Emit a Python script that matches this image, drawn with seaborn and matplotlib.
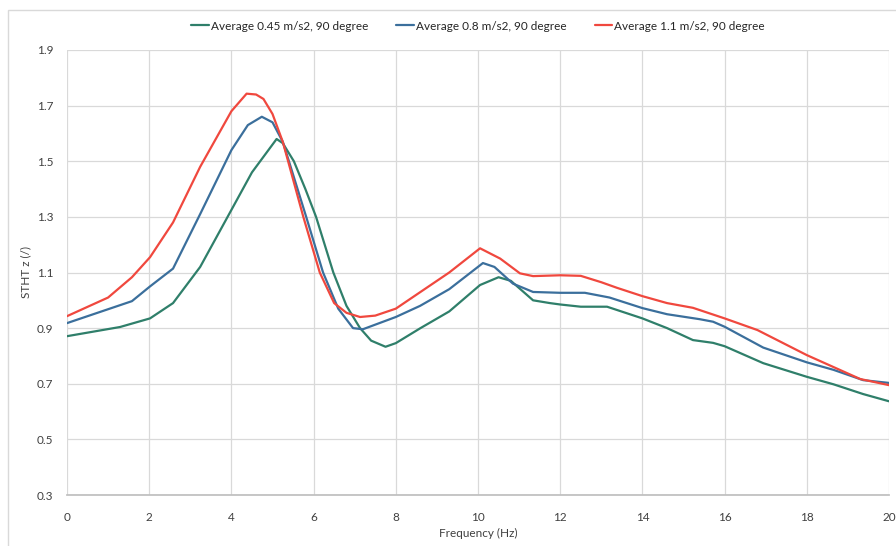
import pandas as pd
import matplotlib.pyplot as plt
import seaborn as sns
from matplotlib.patches import Rectangle

sns.set_theme(style="whitegrid")
plt.rcParams["font.family"] = ["Lato", "DejaVu Sans"]

# frequency (Hz) and STHT z readings for each excitation level
freq_045 = [0, 1.29, 2.02, 2.58, 3.24, 4, 4.5, 5.1, 5.25, 5.52, 5.8, 6.06,
            6.48, 6.8, 7.13, 7.4, 7.75, 8.0, 8.6, 9.3, 10.05, 10.5, 10.8,
            11.34, 11.75, 12.0, 12.5, 13.14, 14, 14.6, 15.23, 15.72, 16,
            16.94, 18, 18.65, 19.37, 20]
stht_045 = [0.871, 0.904, 0.935, 0.99, 1.12, 1.325, 1.46, 1.58, 1.565, 1.50,
            1.40, 1.30, 1.10, 0.98, 0.90, 0.855, 0.833, 0.846, 0.90, 0.96,
            1.055, 1.083, 1.07, 1.0, 0.99, 0.985, 0.977, 0.977, 0.935, 0.90,
            0.857, 0.847, 0.835, 0.774, 0.725, 0.698, 0.663, 0.637]

freq_08 = [0, 1.58, 2.02, 2.58, 3.24, 4, 4.4, 4.74, 5.0, 5.25, 5.4, 5.82,
           6.23, 6.6, 6.96, 7.2, 8, 8.59, 9.3, 10.12, 10.4, 10.85, 11.34,
           12.0, 12.6, 13.2, 14, 14.6, 15.4, 15.72, 16, 16.94, 18, 18.65,
           19.37, 20]
stht_08 = [0.918, 0.997, 1.05, 1.114, 1.31, 1.54, 1.63, 1.66, 1.64, 1.57,
           1.50, 1.30, 1.10, 0.97, 0.90, 0.896, 0.94, 0.98, 1.04, 1.134, 1.12,
           1.06, 1.03, 1.027, 1.027, 1.01, 0.972, 0.95, 0.932, 0.923, 0.905,
           0.83, 0.777, 0.75, 0.713, 0.703]

freq_11 = [0, 1.0, 1.58, 2.02, 2.58, 3.24, 4, 4.37, 4.6, 4.78, 5.0, 5.25,
           5.38, 5.75, 6.15, 6.5, 6.8, 7.13, 7.5, 8, 8.5, 9.3, 10.05, 10.54,
           11.02, 11.34, 12, 12.5, 13, 13.38, 14, 14.6, 15.23, 16, 16.8, 18,
           18.65, 19.3, 20]
stht_11 = [0.943, 1.01, 1.083, 1.155, 1.28, 1.48, 1.68, 1.743, 1.74, 1.724,
           1.67, 1.57, 1.50, 1.30, 1.10, 0.99, 0.955, 0.94, 0.945, 0.97, 1.02,
           1.10, 1.187, 1.15, 1.097, 1.087, 1.09, 1.088, 1.065, 1.045, 1.015,
           0.99, 0.973, 0.935, 0.893, 0.803, 0.76, 0.717, 0.695]

labels = ["Average 0.45 m/s2, 90 degree",
          "Average 0.8 m/s2, 90 degree",
          "Average 1.1 m/s2, 90 degree"]
colors = ["#2f7f6a", "#3b6f9c", "#f0483e"]

df = pd.concat([
    pd.DataFrame({"freq": freq_045, "stht": stht_045, "series": labels[0]}),
    pd.DataFrame({"freq": freq_08, "stht": stht_08, "series": labels[1]}),
    pd.DataFrame({"freq": freq_11, "stht": stht_11, "series": labels[2]}),
])

fig = plt.figure(figsize=(8.96, 5.46), dpi=100)
# light chart-area frame
fig.patches.append(Rectangle((8 / 896, -0.1), 1.0, 1.1 - 10 / 546,
                             transform=fig.transFigure, fill=False,
                             edgecolor="#d9d9d9", linewidth=1.0))
ax = fig.add_axes([67 / 896, 1 - 495 / 546, 822 / 896, 445 / 546])

sns.lineplot(data=df, x="freq", y="stht", hue="series", hue_order=labels,
             palette=colors, linewidth=1.6, ax=ax)

ax.set_xlim(0, 20)
ax.set_ylim(0.3, 1.9)
ax.set_xticks(range(0, 21, 2))
ax.set_yticks([0.3, 0.5, 0.7, 0.9, 1.1, 1.3, 1.5, 1.7, 1.9])
ax.set_yticklabels(["0.3", "0.5", "0.7", "0.9", "1.1", "1.3", "1.5", "1.7", "1.9"])
ax.tick_params(labelsize=8.5, colors="#404040", pad=6)
ax.tick_params(axis="y", pad=4)
ax.set_xlabel("Frequency (Hz)", fontsize=8.5, color="#404040", labelpad=4)
ax.set_ylabel("STHT z (/)", fontsize=8.5, color="#404040")
ax.yaxis.set_label_coords(-0.044, 0.5)
ax.grid(True, color="#d9d9d9", linewidth=0.9)
for side in ["top", "right", "left"]:
    ax.spines[side].set_visible(False)
ax.spines["bottom"].set_color("#bfbfbf")

ax.legend(loc="upper center", bbox_to_anchor=(0.5, 1.09), ncol=3,
          frameon=False, fontsize=8.5, handlelength=1.5, handletextpad=0.15,
          columnspacing=2.4)

fig.savefig("out.png", dpi=100)
